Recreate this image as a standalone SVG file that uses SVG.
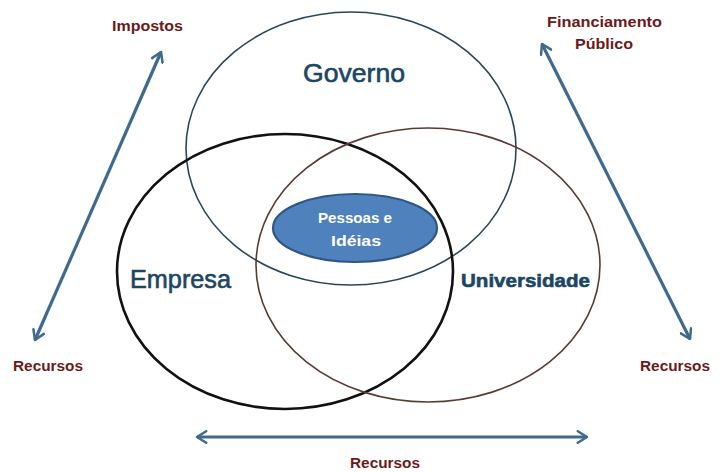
<svg xmlns="http://www.w3.org/2000/svg" width="724" height="472" viewBox="0 0 724 472">
<defs>
<marker id="ah" viewBox="0 0 12 12" refX="10" refY="6" markerWidth="4.3" markerHeight="4.3" orient="auto-start-reverse" markerUnits="strokeWidth">
<path d="M2,1 L10,6 L2,11" fill="none" stroke="#3f6a8c" stroke-width="2.2" stroke-linecap="round" stroke-linejoin="round"/>
</marker>
</defs>
<style>
.lbl{font-family:"Liberation Sans",Arial,sans-serif;font-weight:bold;fill:#6b1a1a;font-size:14px;text-anchor:middle}
.main{font-family:"Liberation Sans",Arial,sans-serif;fill:#1c4664;stroke:#1c4664;stroke-width:0.6;text-anchor:middle}
.inner{font-family:"Liberation Sans",Arial,sans-serif;font-weight:bold;font-size:14px;fill:#ffffff;text-anchor:middle}
.arrow{fill:none;stroke:#3f6a8c;stroke-width:3.2;marker-start:url(#ah);marker-end:url(#ah)}
</style>
<rect width="724" height="472" fill="#ffffff"/>
<g id="governo">
<ellipse cx="351" cy="148.5" rx="165" ry="136.5" fill="none" stroke="#2c4556" stroke-width="1.6"/>
<text class="main" x="354" y="82" font-size="25" textLength="102" lengthAdjust="spacingAndGlyphs">Governo</text>
</g>
<g id="empresa">
<ellipse cx="285" cy="271.5" rx="168" ry="137.5" fill="none" stroke="#111111" stroke-width="2.6"/>
<text class="main" x="180.5" y="288" font-size="25" textLength="101" lengthAdjust="spacingAndGlyphs">Empresa</text>
</g>
<g id="universidade">
<ellipse cx="428" cy="265" rx="172" ry="137" fill="none" stroke="#5a3a35" stroke-width="1.6"/>
<text class="main" x="525.5" y="287" font-size="19" font-weight="bold" stroke-width="0.2" textLength="129" lengthAdjust="spacingAndGlyphs">Universidade</text>
</g>
<g id="pessoas">
<ellipse cx="355" cy="228" rx="82" ry="34" fill="#4f81bd" stroke="#2f5683" stroke-width="2.2"/>
<text class="inner" x="355" y="223" textLength="74" lengthAdjust="spacingAndGlyphs">Pessoas e</text>
<text class="inner" x="356" y="246" textLength="50" lengthAdjust="spacingAndGlyphs">Idéias</text>
</g>
<g id="connectors">
<line class="arrow" x1="161" y1="52" x2="35" y2="340"/>
<line class="arrow" x1="542" y1="44" x2="690" y2="339"/>
<line class="arrow" x1="197" y1="437" x2="587" y2="437"/>
</g>
<g id="labels">
<text class="lbl" x="147.5" y="31" textLength="71" lengthAdjust="spacingAndGlyphs">Impostos</text>
<text class="lbl" x="604.5" y="27" textLength="115" lengthAdjust="spacingAndGlyphs">Financiamento</text>
<text class="lbl" x="604" y="49" textLength="58" lengthAdjust="spacingAndGlyphs">Público</text>
<text class="lbl" x="48" y="371" textLength="70" lengthAdjust="spacingAndGlyphs">Recursos</text>
<text class="lbl" x="675" y="371" textLength="70" lengthAdjust="spacingAndGlyphs">Recursos</text>
<text class="lbl" x="385" y="468" textLength="70" lengthAdjust="spacingAndGlyphs">Recursos</text>
</g>
</svg>
